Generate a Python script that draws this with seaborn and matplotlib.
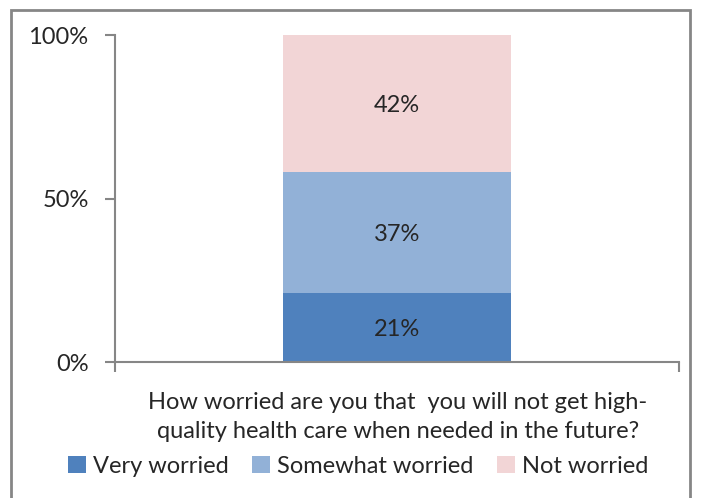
import matplotlib
matplotlib.use("Agg")
import matplotlib.pyplot as plt
from matplotlib.patches import Rectangle
import pandas as pd
import seaborn as sns

# Survey responses (share of respondents)
categories = ["Very worried", "Somewhat worried", "Not worried"]
values = [21, 37, 42]
colors = ["#4F81BD", "#92B1D7", "#F2D5D6"]
question = "How worried are you that  you will not get high-\nquality health care when needed in the future?"
ytick_values = [0, 50, 100]
ytick_labels = ["0%", "50%", "100%"]

sns.set_theme(style="white")
plt.rcParams["font.family"] = ["Lato", "DejaVu Sans"]
text_color = "#262626"
axis_color = "#868686"
fs = 17

fig = plt.figure(figsize=(7.01, 4.98), dpi=100)
ax = fig.add_axes([115 / 701, 1 - 362 / 498, 564 / 701, 327 / 498])

df = pd.DataFrame({"q": ["q"] * len(values), "response": categories, "value": values})

bottom = 0
for cat, val, col in zip(categories, values, colors):
    sub = df[df["response"] == cat]
    sns.barplot(data=sub, x="q", y="value", color=col, width=0.404,
                bottom=bottom, ax=ax, label=cat, linewidth=0, saturation=1)
    ax.text(0, bottom + val / 2, f"{val}%", ha="center", va="center_baseline",
            fontsize=fs, color=text_color)
    bottom += val

ax.set_xlim(-0.5, 0.5)
ax.set_ylim(0, 100)
ax.set_yticks(ytick_values)
ax.set_yticklabels(ytick_labels)
ax.set_xticks([-0.5, 0.5])
ax.set_xticklabels(["", ""])
ax.set_xlabel("")
ax.set_ylabel("")
ax.tick_params(axis="y", direction="out", length=7, width=1.5, color=axis_color,
               labelsize=fs, labelcolor=text_color, pad=12, left=True)
ax.tick_params(axis="x", direction="out", length=7, width=1.5, color=axis_color, bottom=True)
for side in ["top", "right"]:
    ax.spines[side].set_visible(False)
for side in ["left", "bottom"]:
    ax.spines[side].set_color(axis_color)
    ax.spines[side].set_linewidth(1.5)

fig.text(398 / 701, 1 - 417 / 498, question, ha="center", va="center",
         fontsize=fs, color=text_color, linespacing=1.45)

handles, labels = ax.get_legend_handles_labels()
if ax.get_legend() is not None:
    ax.get_legend().remove()
fig.legend(handles, labels, loc="center", bbox_to_anchor=(358 / 701, 1 - 466 / 498),
           ncol=3, frameon=False, fontsize=fs, labelcolor=text_color,
           handlelength=0.75, handleheight=0.75, handletextpad=0.3, columnspacing=1.0,
           borderaxespad=0)

# Outer chart frame
fig.patches.append(Rectangle((11 / 701, -0.05), (690 - 11) / 701, 1 - 10 / 498 + 0.05,
                             transform=fig.transFigure, fill=False,
                             edgecolor=axis_color, linewidth=2, clip_on=False))

fig.savefig("out.png", dpi=100)
